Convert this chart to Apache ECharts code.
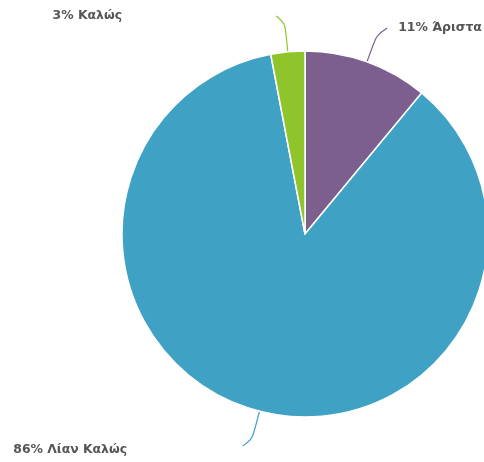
<!DOCTYPE html>
<html>
<head>
<meta charset="utf-8">
<script src="https://cdn.jsdelivr.net/npm/echarts@6/dist/echarts.min.js"></script>
<style>html,body{margin:0;padding:0;background:#fff}#c{width:484px;height:462px}</style>
</head>
<body>
<div id="c"></div>
<script>
const categories = ['Άριστα', 'Λίαν Καλώς', 'Καλώς'];
const values = [11, 86, 3];
const colors = ['#7c5f8e', '#3fa2c4', '#8fc42b'];

const chart = echarts.init(document.getElementById('c'), null, {renderer: 'canvas'});
chart.setOption({
  animation: false,
  color: colors,
  series: [{
    type: 'pie',
    center: [305, 234],
    radius: 183,
    startAngle: 90,
    clockwise: true,
    avoidLabelOverlap: false,
    itemStyle: {borderColor: '#fff', borderWidth: 1.5},
    label: {
      formatter: '{d}% {b}',
      color: '#555',
      fontFamily: 'DejaVu Sans',
      fontWeight: 'bold',
      fontSize: 12.4,
      distanceToLabelLine: 11
    },
    labelLine: {length: 36, length2: 8, smooth: 1, lineStyle: {width: 1.2}},
    labelLayout: function (p) {
      if (p.dataIndex === 0) {
        return {labelLinePoints: p.labelLinePoints};
      }
      if (p.dataIndex === 1) {
        return {x: 127, y: p.labelRect.y + p.labelRect.height / 2 + 4, align: 'right', verticalAlign: 'middle', labelLinePoints: p.labelLinePoints};
      }
      return {x: 122, align: 'right', labelLinePoints: p.labelLinePoints};
    },
    data: categories.map((n, i) => ({name: n, value: values[i]}))
  }]
});
</script>
</body>
</html>
